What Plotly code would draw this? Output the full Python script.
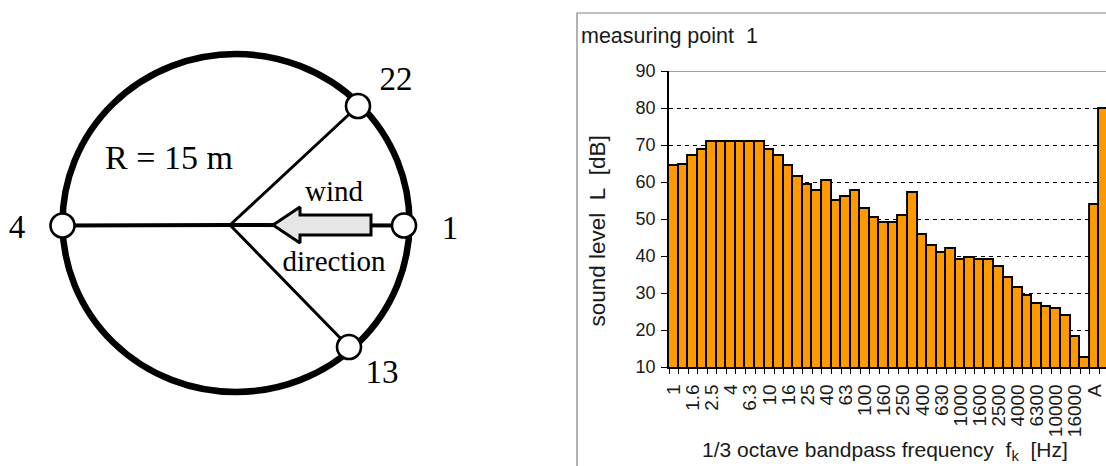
import plotly.graph_objects as go

W, H = 1106, 466

bands = ["1","1.25","1.6","2","2.5","3.15","4","5","6.3","8","10","12.5","16","20","25","31.5",
         "40","50","63","80","100","125","160","200","250","315","400","500","630","800","1000",
         "1250","1600","2000","2500","3150","4000","5000","6300","8000","10000","12500","16000",
         "20000","A","Lin"]
levels = [64.2,64.7,67.1,68.6,70.8,70.8,70.8,70.8,70.8,70.8,68.6,67.1,64.2,61.4,59.1,57.7,60.4,54.9,55.9,57.7,
          52.7,50.4,48.9,48.9,50.9,56.9,45.6,42.7,40.9,41.9,38.9,39.4,38.9,38.9,37.1,34.1,31.4,29.1,27.1,26.2,25.7,
          23.7,18.1,12.4,53.7,79.8]
shown = ["1","1.6","2.5","4","6.3","10","16","25","40","63","100","160","250","400","630","1000",
         "1600","2500","4000","6300","10000","16000","A"]

hub = (230, 225)
node_x = [404, 358, 62.5, 349]
node_y = [225.5, 106, 225.5, 347]
arrow_x = [273, 300, 300, 371, 371, 300, 300, 273]
arrow_y = [225, 207, 215, 215, 235, 235, 243, 225]
diagram_labels = [("22", 396, 82, 33), ("13", 382, 375, 33), ("4", 17, 230, 33), ("1", 450, 231, 33),
                  ("R = 15 m", 169, 160, 34), ("wind", 334, 194, 29), ("direction", 334, 264, 29)]

fig = go.Figure()

positions = list(range(len(bands)))
fig.add_trace(go.Bar(x=positions, y=levels, width=1, marker=dict(color="#FF9900", line=dict(color="black", width=1.9)),
                     showlegend=False, hoverinfo="skip", xaxis="x", yaxis="y"))

for i, (nx, ny) in enumerate(zip(node_x, node_y)):
    fig.add_trace(go.Scatter(x=[hub[0], nx], y=[hub[1], ny], mode="lines",
                             line=dict(color="black", width=3 if i in (1, 3) else 4),
                             showlegend=False, hoverinfo="skip", xaxis="x2", yaxis="y2"))
fig.add_trace(go.Scatter(x=arrow_x, y=arrow_y, mode="lines", fill="toself", fillcolor="#E6E6E6",
                         line=dict(color="black", width=3), showlegend=False, hoverinfo="skip",
                         xaxis="x2", yaxis="y2"))
fig.add_trace(go.Scatter(x=node_x, y=node_y, mode="markers",
                         marker=dict(size=24, color="white", line=dict(color="black", width=2.6)),
                         showlegend=False, hoverinfo="skip", xaxis="x2", yaxis="y2"))
fig.add_trace(go.Scatter(x=[t[1] for t in diagram_labels], y=[t[2] for t in diagram_labels],
                         text=[t[0] for t in diagram_labels], mode="text",
                         textfont=dict(family="Liberation Serif", color="black", size=[t[3] for t in diagram_labels]),
                         showlegend=False, hoverinfo="skip", xaxis="x2", yaxis="y2"))

sans = "Liberation Sans"
left, bottom, top = 669, 367, 71
pitch = 9.56
fig.update_layout(
    template="none",
    width=W, height=H, autosize=False, margin=dict(l=0, r=0, t=0, b=0, pad=0),
    paper_bgcolor="white", plot_bgcolor="white", bargap=0, showlegend=False,
    font=dict(family=sans, color="black"),
    title=dict(text="measuring point\u00a0 1", x=581/W, y=1-35/H, xanchor="left", yanchor="middle",
               font=dict(family=sans, size=21.5, color="#1a1a1a")),
    xaxis=dict(domain=[left/W, 1], range=[-0.5, (W-left)/pitch-0.5], tickmode="array", automargin=False,
               tickvals=[bands.index(s) for s in shown], ticktext=shown, tickangle=-90,
               ticks="", showgrid=False, showline=True, linecolor="black", linewidth=1.5,
               tickfont=dict(size=19, color="#1a1a1a"), ticklabelstandoff=8,
               minor=dict(ticks="outside", tick0=-0.5, dtick=1, ticklen=5, tickcolor="black", tickwidth=1, showgrid=False),
               anchor="y", zeroline=False),
    yaxis=dict(domain=[(H-bottom)/H, (H-top)/H], range=[10, 90], dtick=10, tick0=10, ticks="outside", ticklen=6,
               tickcolor="black", showline=True, linecolor="black", linewidth=1.5, automargin=False,
               showgrid=True, gridcolor="black", gridwidth=1, griddash="4px,4px", ticklabelstandoff=2,
               tickfont=dict(size=18, color="#1a1a1a"), anchor="x", zeroline=False),
    xaxis2=dict(domain=[0, 570/W], range=[0, 570], visible=False, anchor="y2", automargin=False),
    yaxis2=dict(domain=[0, 1], range=[H, 0], visible=False, anchor="x2", automargin=False),
    shapes=[
        dict(type="rect", xref="paper", yref="paper", x0=577/W, x1=1.01, y0=-0.01, y1=1-13/H,
             line=dict(color="#808080", width=1.2), layer="below"),
        dict(type="line", xref="x", yref="y", x0=-0.5, x1=46, y0=90, y1=90,
             line=dict(color="#808080", width=1.5), layer="above"),
        dict(type="circle", xref="x2", yref="y2", x0=62.5, x1=409.5, y0=54, y1=392,
             line=dict(color="black", width=6.5), layer="below"),
    ],
    annotations=[
        dict(text="sound level\u00a0 L\u00a0 [dB]", xref="paper", yref="paper", x=596.5/W, y=1-231/H,
             xanchor="center", yanchor="middle",
             textangle=-90, showarrow=False, font=dict(family=sans, size=22.5, color="#1a1a1a")),
        dict(text="1/3 octave bandpass frequency\u00a0 f<sub>k</sub>\u00a0 [Hz]", xref="paper", yref="paper", x=885/W, y=1-451/H,
             xanchor="center", yanchor="middle",
             showarrow=False, font=dict(family=sans, size=21, color="#1a1a1a")),
    ],
)

fig.write_html("out.html", config=dict(displayModeBar=False),
               post_script="document.body.style.margin='0';document.documentElement.style.overflow='hidden';")
